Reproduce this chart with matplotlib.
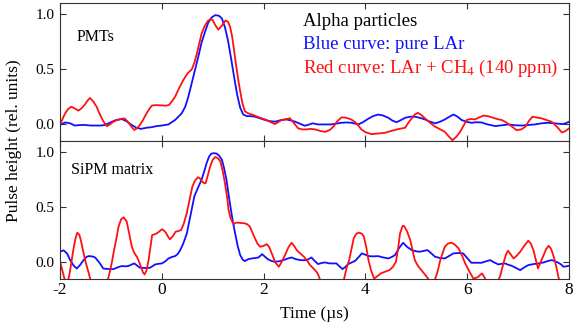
import numpy as np
import matplotlib
matplotlib.use('Agg')
import matplotlib.pyplot as plt

plt.rcParams['font.family'] = 'Liberation Serif'
plt.rcParams['mathtext.fontset'] = 'custom'
plt.rcParams['mathtext.rm'] = 'Liberation Serif'
plt.rcParams['mathtext.default'] = 'regular'

# ---- PMTs panel ----
pmt_blue_t = [-2.00, -1.90, -1.80, -1.71, -1.60, -1.51, -1.40, -1.31, -1.20, -1.12, -1.00, -0.90, -0.79, -0.70,
              -0.59, -0.50, -0.41, -0.30, -0.20, -0.10, 0.00, 0.13, 0.26, 0.39, 0.46, 0.52, 0.58, 0.65, 0.72,
              0.78, 0.85, 0.91, 0.98, 1.05, 1.12, 1.18, 1.24, 1.30, 1.36, 1.42, 1.48, 1.54, 1.60, 1.67, 1.75,
              1.83, 1.93, 2.03, 2.12, 2.22, 2.35, 2.45, 2.55, 2.62, 2.72, 2.81, 2.90, 2.96, 3.07, 3.20, 3.33,
              3.43, 3.53, 3.63, 3.73, 3.86, 3.95, 4.05, 4.15, 4.25, 4.35, 4.45, 4.53, 4.61, 4.70, 4.78, 4.88,
              4.97, 5.07, 5.17, 5.27, 5.37, 5.47, 5.56, 5.65, 5.73, 5.81, 5.89, 6.00, 6.09, 6.18, 6.28, 6.40,
              6.55, 6.68, 6.81, 6.95, 7.07, 7.20, 7.33, 7.46, 7.59, 7.72, 7.86, 7.93, 8.00]
pmt_blue_y = [-0.005, 0.018, 0.01, -0.01, -0.005, -0.005, -0.01, -0.01, -0.01, -0.005, 0.02, 0.04, 0.05, 0.03,
              -0.005, -0.03, -0.04, -0.03, -0.025, -0.015, -0.01, 0.0, 0.04, 0.10, 0.16, 0.25, 0.36, 0.49, 0.62,
              0.74, 0.84, 0.92, 0.97, 0.99, 0.985, 0.96, 0.88, 0.76, 0.60, 0.43, 0.27, 0.15, 0.09, 0.075, 0.075,
              0.07, 0.055, 0.04, 0.03, 0.025, 0.04, 0.045, 0.035, 0.025, 0.005, -0.012, 0.0, 0.01, 0.0, 0.0, 0.0,
              0.008, 0.015, 0.018, 0.015, 0.0, 0.02, 0.05, 0.075, 0.09, 0.08, 0.06, 0.035, 0.02, 0.04, 0.06, 0.07,
              0.07, 0.06, 0.045, 0.025, 0.01, 0.025, 0.045, 0.07, 0.09, 0.07, 0.04, 0.022, 0.015, 0.02, 0.018, 0.0,
              -0.015, -0.008, 0.0, -0.008, -0.01, -0.005, 0.0, 0.01, 0.015, 0.01, 0.003, 0.01, 0.025]

pmt_red_t = [-2.00, -1.95, -1.90, -1.84, -1.78, -1.71, -1.64, -1.58, -1.52, -1.46, -1.41, -1.35, -1.28, -1.23,
             -1.18, -1.13, -1.08, -1.02, -0.95, -0.88, -0.82, -0.76, -0.72, -0.67, -0.62, -0.57, -0.54, -0.49,
             -0.43, -0.37, -0.30, -0.24, -0.19, -0.10, 0.00, 0.07, 0.14, 0.20, 0.26, 0.34, 0.42, 0.50, 0.59,
             0.64, 0.69, 0.74, 0.78, 0.84, 0.90, 0.96, 1.00, 1.05, 1.11, 1.18, 1.25, 1.30, 1.34, 1.38, 1.41,
             1.44, 1.48, 1.51, 1.54, 1.58, 1.63, 1.70, 1.80, 1.90, 2.03, 2.12, 2.22, 2.30, 2.35, 2.45, 2.52,
             2.60, 2.68, 2.76, 2.84, 2.92, 3.01, 3.12, 3.21, 3.30, 3.37, 3.45, 3.53, 3.60, 3.66, 3.72, 3.79,
             3.86, 3.92, 4.00, 4.12, 4.25, 4.38, 4.50, 4.64, 4.78, 4.85, 4.91, 4.97, 5.03, 5.10, 5.17, 5.27,
             5.37, 5.47, 5.56, 5.64, 5.71, 5.79, 5.86, 5.93, 5.99, 6.07, 6.15, 6.24, 6.32, 6.40, 6.48, 6.58,
             6.68, 6.76, 6.84, 6.97, 7.06, 7.14, 7.21, 7.28, 7.37, 7.46, 7.56, 7.66, 7.76, 7.86, 7.93, 8.00]
pmt_red_y = [-0.005, 0.05, 0.10, 0.14, 0.16, 0.145, 0.125, 0.145, 0.175, 0.215, 0.24, 0.21, 0.16, 0.105,
             0.055, 0.015, -0.015, 0.0, 0.025, 0.04, 0.045, 0.055, 0.05, 0.025, -0.005, -0.035, -0.05, -0.035,
             -0.005, 0.04, 0.10, 0.145, 0.172, 0.175, 0.172, 0.17, 0.175, 0.21, 0.25, 0.33, 0.40, 0.46, 0.50,
             0.56, 0.645, 0.74, 0.82, 0.89, 0.935, 0.955, 0.945, 0.90, 0.858, 0.895, 0.942, 0.93, 0.887, 0.80, 0.705,
             0.60, 0.47, 0.38, 0.30, 0.20, 0.12, 0.10, 0.085, 0.065, 0.045, 0.025, 0.003, 0.025, 0.04, 0.05, 0.055,
             0.01, -0.036, -0.045, -0.045, -0.04, -0.045, -0.06, -0.067, -0.05, -0.02, 0.03, 0.064, 0.062, 0.055, 0.045, 0.024,
             -0.01, -0.045, -0.07, -0.088, -0.082, -0.076, -0.06, -0.043, -0.03, 0.02, 0.055, 0.09, 0.105, 0.085, 0.055, 0.015,
             -0.02, -0.045, -0.067, -0.11, -0.143, -0.11, -0.067, -0.01, 0.04, 0.05, 0.045, 0.065, 0.08, 0.075, 0.065, 0.05,
             0.04, 0.02, -0.006, -0.052, -0.045, -0.022, 0.03, 0.07, 0.062, 0.055, 0.04, 0.024, -0.02, -0.073, -0.06, -0.036]

# ---- SiPM matrix panel ----
sipm_blue_t = [-2.00, -1.93, -1.86, -1.80, -1.73, -1.67, -1.60, -1.54, -1.48, -1.44, -1.37, -1.31, -1.23, -1.15,
               -1.05, -0.95, -0.87, -0.79, -0.72, -0.66, -0.60, -0.54, -0.48, -0.43, -0.33, -0.23, -0.13, -0.06,
               0.00, 0.07, 0.13, 0.20, 0.26, 0.31, 0.36, 0.42, 0.49, 0.56, 0.64, 0.72, 0.78, 0.83, 0.88, 0.93,
               0.97, 1.03, 1.08, 1.13, 1.18, 1.22, 1.27, 1.31, 1.36, 1.40, 1.44, 1.49, 1.54, 1.59, 1.63, 1.70,
               1.77, 1.84, 1.90, 1.97, 2.03, 2.09, 2.16, 2.22, 2.30, 2.39, 2.47, 2.55, 2.63, 2.72, 2.80, 2.85,
               2.94, 3.00, 3.07, 3.14, 3.21, 3.28, 3.34, 3.43, 3.50, 3.55, 3.61, 3.66, 3.73, 3.80, 3.87, 3.93,
               4.00, 4.06, 4.15, 4.25, 4.35, 4.45, 4.52, 4.58, 4.66, 4.74, 4.82, 4.91, 5.00, 5.07, 5.15, 5.22,
               5.30, 5.37, 5.47, 5.56, 5.65, 5.73, 5.82, 5.92, 6.00, 6.08, 6.18, 6.28, 6.37, 6.45, 6.53, 6.61,
               6.68, 6.74, 6.80, 6.87, 6.96, 7.04, 7.12, 7.20, 7.30, 7.40, 7.50, 7.58, 7.66, 7.73, 7.79, 7.85,
               7.89, 7.95, 8.00]
sipm_blue_y = [0.097, 0.11, 0.08, 0.02, -0.03, -0.055, -0.02, 0.02, 0.05, 0.057, 0.055, 0.045, 0.0, -0.055,
               -0.06, -0.061, -0.045, -0.033, -0.035, -0.033, -0.02, -0.009, -0.03, -0.048, -0.05, -0.048, -0.018, -0.012,
               -0.009, 0.01, 0.036, 0.05, 0.057, 0.075, 0.11, 0.17, 0.26, 0.42, 0.60, 0.687, 0.748, 0.82, 0.90, 0.96,
               0.985, 0.99, 0.985, 0.965, 0.93, 0.86, 0.75, 0.62, 0.47, 0.36, 0.263, 0.15, 0.066, 0.025, 0.012, 0.03,
               0.036, 0.04, 0.045, 0.075, 0.05, 0.027, 0.012, 0.006, 0.01, 0.021, 0.035, 0.045, 0.03, 0.021, 0.02, 0.021,
               0.045, 0.015, -0.015, -0.005, 0.0, -0.008, -0.009, -0.009, -0.04, -0.06, -0.04, -0.015, 0.0, 0.015, 0.05, 0.082,
               0.07, 0.057, 0.055, 0.057, 0.045, 0.036, 0.05, 0.066, 0.13, 0.178, 0.14, 0.112, 0.1, 0.097, 0.105, 0.112,
               0.08, 0.051, 0.04, 0.036, 0.06, 0.082, 0.085, 0.082, 0.04, -0.003, -0.003, -0.003, 0.01, 0.021, 0.0, -0.018,
               -0.012, -0.009, -0.02, -0.03, -0.05, -0.07, -0.045, -0.024, -0.015, -0.009, 0.0, 0.012, 0.021, 0.01, -0.003, -0.02,
               -0.039, -0.035, -0.03]

sipm_red_t = [-2.00, -1.95, -1.90, -1.86, -1.82, -1.78, -1.74, -1.70, -1.66, -1.62, -1.59, -1.54, -1.49, -1.44,
              -1.40, -1.33, -1.25, -1.15, -1.08, -1.04, -0.99, -0.95, -0.90, -0.85, -0.80, -0.75, -0.69, -0.64,
              -0.59, -0.54, -0.49, -0.45, -0.41, -0.37, -0.34, -0.30, -0.26, -0.22, -0.19, -0.14, -0.10, -0.05,
              0.00, 0.04, 0.08, 0.12, 0.16, 0.22, 0.27, 0.33, 0.38, 0.43, 0.49, 0.55, 0.60, 0.65, 0.71, 0.75,
              0.78, 0.82, 0.86, 0.91, 0.95, 1.00, 1.05, 1.10, 1.15, 1.20, 1.24, 1.28, 1.31, 1.35, 1.41, 1.46,
              1.50, 1.57, 1.63, 1.68, 1.73, 1.78, 1.83, 1.88, 1.93, 2.00, 2.06, 2.11, 2.16, 2.23, 2.30, 2.36,
              2.42, 2.49, 2.55, 2.60, 2.65, 2.71, 2.78, 2.85, 2.91, 2.97, 3.04, 3.08, 3.11, 3.20, 3.35, 3.50,
              3.58, 3.63, 3.68, 3.73, 3.77, 3.82, 3.87, 3.93, 3.97, 4.02, 4.06, 4.11, 4.17, 4.22, 4.30, 4.38,
              4.47, 4.54, 4.60, 4.64, 4.68, 4.73, 4.76, 4.82, 4.88, 4.93, 4.97, 5.03, 5.10, 5.17, 5.23, 5.30,
              5.36, 5.40, 5.44, 5.47, 5.52, 5.56, 5.62, 5.69, 5.76, 5.83, 5.90, 5.96, 6.04, 6.12, 6.17, 6.22,
              6.26, 6.29, 6.32, 6.35, 6.42, 6.50, 6.58, 6.65, 6.71, 6.76, 6.80, 6.86, 6.91, 6.97, 7.04, 7.12,
              7.20, 7.25, 7.30, 7.35, 7.39, 7.44, 7.50, 7.55, 7.60, 7.65, 7.70, 7.75, 7.79, 7.85, 7.93, 8.00]
sipm_red_y = [0.005, -0.08, -0.17, -0.20, -0.12, -0.01, 0.11, 0.21, 0.27, 0.25, 0.20, 0.09, -0.009, -0.09,
              -0.16, -0.26, -0.30, -0.28, -0.19, -0.12, -0.02, 0.082, 0.20, 0.324, 0.39, 0.409, 0.37, 0.26,
              0.142, 0.085, 0.051, 0.01, -0.04, -0.09, -0.109, -0.07, 0.021, 0.15, 0.248, 0.255, 0.263, 0.28,
              0.30, 0.29, 0.27, 0.235, 0.209, 0.24, 0.278, 0.285, 0.294, 0.35, 0.445, 0.58, 0.687, 0.74, 0.772, 0.76,
              0.742, 0.72, 0.718, 0.80, 0.87, 0.93, 0.955, 0.945, 0.915, 0.82, 0.718, 0.60, 0.48, 0.40, 0.348, 0.36,
              0.36, 0.357, 0.354, 0.345, 0.324, 0.27, 0.218, 0.17, 0.142, 0.15, 0.166, 0.14, 0.082, 0.0, -0.039, 0.01,
              0.066, 0.14, 0.178, 0.15, 0.112, 0.085, 0.057, 0.02, -0.024, -0.05, -0.085, -0.12, -0.16, -0.26, -0.30, -0.26,
              -0.15, -0.05, 0.021, 0.13, 0.218, 0.26, 0.27, 0.26, 0.233, 0.13, 0.021, -0.07, -0.146, -0.13, -0.10, -0.085,
              -0.07, -0.04, 0.006, 0.12, 0.263, 0.33, 0.33, 0.28, 0.203, 0.1, 0.021, -0.03, -0.07, -0.11, -0.146, -0.20,
              -0.16, -0.11, -0.04, 0.021, 0.09, 0.142, 0.17, 0.18, 0.16, 0.127, 0.06, -0.009, -0.08, -0.146, -0.14, -0.13,
              -0.11, -0.10, -0.12, -0.146, -0.20, -0.23, -0.19, -0.12, -0.009, 0.07, 0.106, 0.07, 0.036, 0.06, 0.097, 0.15,
              0.197, 0.17, 0.112, 0.02, -0.055, 0.0, 0.066, 0.12, 0.151, 0.12, 0.051, -0.04, -0.13, -0.22, -0.28, -0.30]

xticks = [-2, 0, 2, 4, 6, 8]
yticks = [0.0, 0.5, 1.0]

fig = plt.figure(figsize=(5.81, 3.26), dpi=100)
ax1 = fig.add_axes([0.1033, 0.5675, 0.8761, 0.4233])
ax2 = fig.add_axes([0.1033, 0.1442, 0.8761, 0.4233], sharex=ax1)

ax1.plot(pmt_blue_t, pmt_blue_y, color='#1010ff', lw=1.3)
ax1.plot(pmt_red_t, pmt_red_y, color='#ff1010', lw=1.3)
ax2.plot(sipm_blue_t, sipm_blue_y, color='#1010ff', lw=1.3)
ax2.plot(sipm_red_t, sipm_red_y, color='#ff1010', lw=1.3)

for ax in (ax1, ax2):
    ax.set_xlim(-2, 8)
    ax.set_ylim(-0.15, 1.1)
    ax.set_xticks(xticks)
    ax.set_yticks(yticks)
    ax.set_yticklabels(['0.0', '0.5', '1.0'])
    ax.tick_params(direction='in', top=True, right=True, length=4, width=0.8, color='#333333')
    ax.tick_params(axis='y', labelsize=11, pad=4)
    ax.tick_params(axis='x', labelsize=12.5, pad=2)
    for s in ax.spines.values():
        s.set_color('#333333')
        s.set_linewidth(0.8)

ax1.tick_params(axis='x', labelbottom=False)
ax2.set_xticklabels(['-2', '0', '2', '4', '6', '8'])

ax1.text(0.033, 0.727, 'PMTs', transform=ax1.transAxes, fontsize=11.5)
ax2.text(0.022, 0.759, 'SiPM matrix', transform=ax2.transAxes, fontsize=11.5)

ax1.text(0.477, 0.833, 'Alpha particles', transform=ax1.transAxes, fontsize=13.5, color='black')
ax1.text(0.477, 0.667, 'Blue curve: pure LAr', transform=ax1.transAxes, fontsize=13.5, color='#1010ff')
ax1.text(0.477, 0.49, 'Red curve: LAr + CH$_4$ (140 ppm)', transform=ax1.transAxes, fontsize=13.5, color='#ff1010')

fig.text(0.024, 0.567, 'Pulse height (rel. units)', rotation=90, ha='center', va='center', fontsize=12.5)
fig.text(314.5 / 581, 1 - 314 / 326, 'Time (\u00b5s)', ha='center', va='center', fontsize=12.5)

fig.savefig('out.png', dpi=100)
